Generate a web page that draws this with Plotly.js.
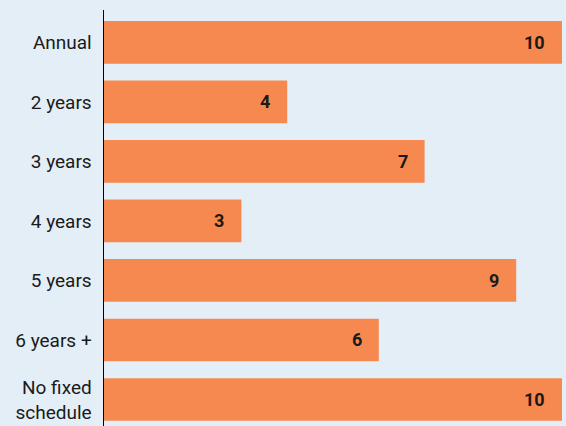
<!DOCTYPE html>
<html><head><meta charset="utf-8">
<script src="https://cdn.plot.ly/plotly-3.0.1.min.js"></script>
<style>html,body{margin:0;padding:0;background:#e4eef7;}#chart{width:566px;height:426px;}</style>
</head><body><div id="chart"></div>
<script>
var categories = ["Annual", "2 years", "3 years", "4 years", "5 years", "6 years +", "No fixed<br>schedule"];
var values = [10, 4, 7, 3, 9, 6, 10];

var annotations = categories.map(function(c, i){
  return {x: values[i], y: c, xref: 'x', yref: 'y', text: '<b>' + values[i] + '</b>',
    showarrow: false, xanchor: 'right', xshift: -15,
    font: {family: 'Roboto, sans-serif', size: 18, color: '#1a1a1a'}};
});

Plotly.newPlot('chart', [{
  type: 'bar', orientation: 'h', x: values, y: categories,
  marker: {color: '#f5894f'}, hoverinfo: 'none'
}], {
  width: 566, height: 426,
  margin: {l: 104, r: 4, t: 10, b: 0},
  paper_bgcolor: '#e4eef7', plot_bgcolor: '#e4eef7',
  bargap: 0.283,
  showlegend: false,
  xaxis: {range: [0, 10], showgrid: false, zeroline: false, showticklabels: false, showline: false, ticks: ''},
  yaxis: {type: 'category', range: [6.445, -0.543], showgrid: false, zeroline: false,
    showline: true, linecolor: '#000000', linewidth: 1.5, ticks: '', ticklabelstandoff: 7,
    tickfont: {family: 'Roboto, sans-serif', size: 19, color: '#1a1a1a'}},
  annotations: annotations,
  font: {family: 'Roboto, sans-serif'}
}, {staticPlot: true});
</script></body></html>
